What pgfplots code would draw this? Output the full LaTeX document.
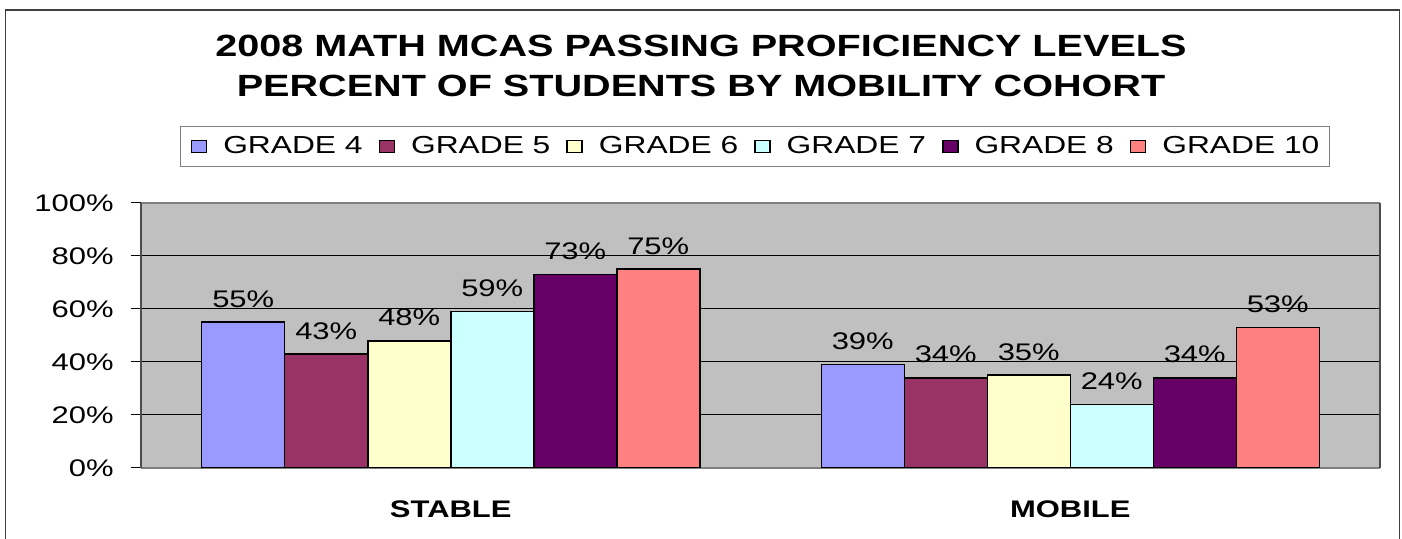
\documentclass[border=0pt]{standalone}
\usepackage{fontspec}
\setmainfont{Liberation Sans}[FakeStretch=1.29]
\usepackage{pgfplots}
\pgfplotsset{compat=1.18}

\definecolor{gfour}{HTML}{9999FF}
\definecolor{gfive}{HTML}{993366}
\definecolor{gsix}{HTML}{FFFFCC}
\definecolor{gseven}{HTML}{CCFFFF}
\definecolor{geight}{HTML}{660066}
\definecolor{gten}{HTML}{FF8080}
\definecolor{plotgray}{HTML}{C0C0C0}
\definecolor{axisgray}{HTML}{808080}

\begin{document}
\begin{tikzpicture}
\useasboundingbox (0,0) rectangle (701pt,269.5pt);
\clip (0,0) rectangle (701pt,269.5pt);
\draw[line width=0.9pt, black!75] (2.75pt,-5pt) rectangle (699.75pt,264.5pt);
\begin{axis}[
    at={(70.5pt,35.5pt)}, anchor=south west,
    scale only axis, width=619.5pt, height=132.5pt,
    ybar=0pt, bar width=41.5pt,
    xmin=-0.5, xmax=1.5, ymin=0, ymax=100,
    xtick={0,1}, xticklabels={STABLE,MOBILE},
    ytick={0,20,...,100},
    /pgf/number format/assume math mode=true,
    yticklabel={\pgfmathprintnumber{\tick}\%},
    ymajorgrids, major grid style={black, line width=0.5pt},
    axis background/.style={fill=plotgray},
    separate axis lines,
    x axis line style={draw=axisgray, line width=0.75pt},
    y axis line style={draw=black!70, line width=0.75pt},
    x tick style={draw=none},
    y tick style={black, line width=0.5pt},
    major tick length=5pt, tick align=outside,
    ytick pos=left, xtick pos=bottom,
    yticklabel style={font=\fontsize{12}{14}\selectfont, anchor=east, inner sep=0pt, xshift=-8.5pt},
    xticklabel style={font=\bfseries\fontsize{12}{14}\selectfont, anchor=north, inner sep=0pt, yshift=-11pt},
    nodes near coords={\pgfmathprintnumber{\pgfplotspointmeta}\%},
    every node near coord/.append style={font=\fontsize{12}{14}\selectfont, inner sep=0pt, anchor=south, yshift=7pt, black},
    every axis plot/.append style={draw=black, line width=0.75pt},
    title={2008 MATH MCAS PASSING PROFICIENCY LEVELS\\PERCENT OF STUDENTS BY MOBILITY COHORT},
    title style={at={(0.452,1)}, anchor=south, yshift=47pt, align=center, inner sep=0pt,
        font=\bfseries\fontsize{15.35}{20}\selectfont},
    legend columns=6,
    legend image code/.code={\draw[#1] (0pt,-3pt) rectangle (7.5pt,3pt);},
    legend style={at={(0.4956,1.213)}, anchor=center, draw=axisgray, line width=0.6pt,
        font=\fontsize{12.3}{14}\selectfont, inner xsep=5pt, inner ysep=5pt,
        column sep=8pt, nodes={inner sep=0pt},
        /tikz/every even column/.append style={column sep=8pt}},
]
\addplot[fill=gfour] coordinates {(0,55) (1,39)};
\addplot[fill=gfive] coordinates {(0,43) (1,34)};
\addplot[fill=gsix] coordinates {(0,48) (1,35)};
\addplot[fill=gseven] coordinates {(0,59) (1,24)};
\addplot[fill=geight] coordinates {(0,73) (1,34)};
\addplot[fill=gten] coordinates {(0,75) (1,53)};
\legend{GRADE 4, GRADE 5, GRADE 6, GRADE 7, GRADE 8, GRADE 10}
\end{axis}
\end{tikzpicture}
\end{document}
